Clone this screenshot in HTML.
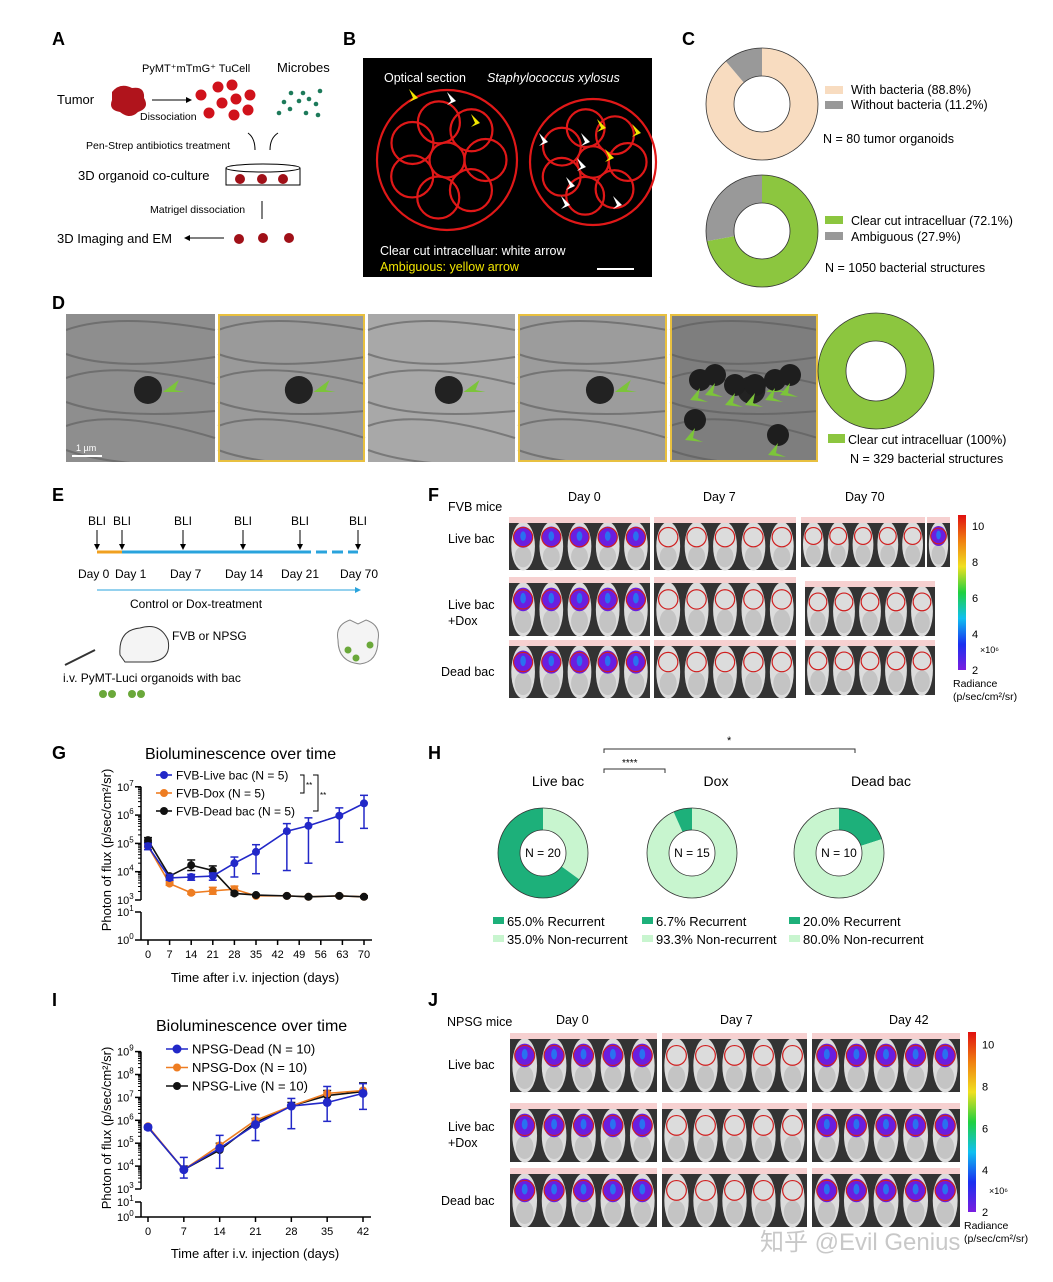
<!DOCTYPE html>
<html><head><meta charset="utf-8"><style>
html,body{margin:0;padding:0;background:#fff}
svg{display:block;font-family:"Liberation Sans",Arial,sans-serif}
</style></head><body>
<svg id="fig" width="1053" height="1282" viewBox="0 0 1053 1282">
<defs><clipPath id="emclip"><rect x="66" y="314" width="752" height="148"/></clipPath></defs>
<g id="labels" font-weight="bold" font-size="18" fill="#000">
<text x="52" y="45">A</text>
<text x="343" y="45">B</text>
<text x="682" y="45">C</text>
<text x="52" y="309">D</text>
<text x="52" y="501">E</text>
<text x="428" y="501">F</text>
<text x="52" y="759">G</text>
<text x="428" y="759">H</text>
<text x="52" y="1006">I</text>
<text x="428" y="1006">J</text>
</g>

<g id="panelA" font-size="12">
<text x="142" y="72" font-size="11">PyMT⁺mTmG⁺ TuCell</text>
<text x="277" y="72" font-size="13">Microbes</text>
<text x="57" y="104" font-size="13">Tumor</text>
<path d="M112,92 Q120,82 132,88 Q145,86 144,98 Q150,108 138,112 Q130,120 120,112 Q108,110 112,100Z" fill="#b0141c"/>
<line x1="152" y1="100" x2="186" y2="100" stroke="#000"/>
<path d="M186,97 L192,100 L186,103Z" fill="#000"/>
<text x="140" y="120" font-size="10.5">Dissociation</text>
<g fill="#d0121b">
<circle cx="201" cy="95" r="5.5"/><circle cx="218" cy="87" r="5.5"/><circle cx="232" cy="85" r="5.5"/><circle cx="222" cy="103" r="5.5"/><circle cx="236" cy="99" r="5.5"/><circle cx="250" cy="95" r="5.5"/><circle cx="209" cy="113" r="5.5"/><circle cx="234" cy="115" r="5.5"/><circle cx="248" cy="110" r="5.5"/></g>
<g fill="#1d7a5a">
<circle cx="291" cy="93" r="2.3"/><circle cx="303" cy="93" r="2.3"/><circle cx="320" cy="91" r="2.3"/><circle cx="284" cy="102" r="2.3"/><circle cx="299" cy="101" r="2.3"/><circle cx="309" cy="99" r="2.3"/><circle cx="316" cy="104" r="2.3"/><circle cx="279" cy="113" r="2.3"/><circle cx="290" cy="109" r="2.3"/><circle cx="306" cy="113" r="2.3"/><circle cx="318" cy="115" r="2.3"/></g>
<text x="86" y="149" font-size="10.5">Pen-Strep antibiotics treatment</text>
<path d="M248,133 Q255,138 255,150 M278,133 Q270,138 270,150" stroke="#000" fill="none"/>
<text x="78" y="180" font-size="13">3D organoid co-culture</text>
<ellipse cx="263" cy="168" rx="37" ry="4" fill="none" stroke="#000"/>
<path d="M226,168 V185 H300 V168" fill="none" stroke="#000"/>
<g fill="#a01018"><circle cx="240" cy="179" r="5"/><circle cx="262" cy="179" r="5"/><circle cx="283" cy="179" r="5"/></g>
<text x="150" y="213" font-size="10.5">Matrigel dissociation</text>
<line x1="262" y1="201" x2="262" y2="219" stroke="#000"/>
<text x="57" y="243" font-size="13">3D Imaging and EM</text>
<line x1="190" y1="238" x2="224" y2="238" stroke="#000"/><path d="M190,235 L184,238 L190,241Z"/>
<g fill="#a01018"><circle cx="239" cy="239" r="5"/><circle cx="263" cy="238" r="5"/><circle cx="289" cy="238" r="5"/></g>
</g>

<g id="panelB">
<rect x="363" y="58" width="289" height="219" fill="#000"/>
<g id="bcells" stroke="#e01818" stroke-width="2.2" fill="none"></g>
<text x="384" y="82" fill="#fff" font-size="12.5">Optical section</text>
<text x="487" y="82" fill="#fff" font-size="12.5" font-style="italic">Staphylococcus xylosus</text>
<text x="380" y="255" fill="#fff" font-size="12.5">Clear cut intracelluar: white arrow</text>
<text x="380" y="271" fill="#f2e600" font-size="12.5">Ambiguous: yellow arrow</text>
<line x1="597" y1="269" x2="634" y2="269" stroke="#fff" stroke-width="2"/>
</g>

<g id="panelC" font-size="12.5">
<g id="donutC1"></g>
<rect x="825" y="86" width="18" height="8" fill="#f8dcc0"/><text x="851" y="94">With bacteria (88.8%)</text>
<rect x="825" y="101" width="18" height="8" fill="#999"/><text x="851" y="109">Without bacteria (11.2%)</text>
<text x="823" y="143">N = 80 tumor organoids</text>
<g id="donutC2"></g>
<rect x="825" y="216" width="18" height="8" fill="#8cc63f"/><text x="851" y="225">Clear cut intracelluar (72.1%)</text>
<rect x="825" y="232" width="18" height="8" fill="#999"/><text x="851" y="241">Ambiguous (27.9%)</text>
<text x="825" y="272">N = 1050 bacterial structures</text>
</g>

<g id="panelD">
<g id="emImgs" clip-path="url(#emclip)"></g>
<g id="emFrames"></g>
<g id="donutD"></g>
<rect x="828" y="434" width="17" height="9" fill="#8cc63f"/>
<text x="848" y="444" font-size="12.5">Clear cut intracelluar (100%)</text>
<text x="850" y="463" font-size="12.5">N = 329 bacterial structures</text>
</g>

<g id="panelE" font-size="12">
<line x1="97" y1="552" x2="122" y2="552" stroke="#f0a020" stroke-width="3"/>
<line x1="122" y1="552" x2="300" y2="552" stroke="#29a3dc" stroke-width="3"/>
<line x1="300" y1="552" x2="358" y2="552" stroke="#29a3dc" stroke-width="3" stroke-dasharray="11,5"/>
<g id="bliMarks"></g>
<text x="130" y="608">Control or Dox-treatment</text>
<line x1="97" y1="590" x2="355" y2="590" stroke="#29a3dc"/><path d="M355,587 L361,590 L355,593Z" fill="#29a3dc"/>
<path d="M120,655 Q118,630 140,628 Q160,622 168,640 Q172,660 150,662 H125Z" fill="#f4f4f4" stroke="#333"/>
<text x="172" y="640">FVB or NPSG</text>
<text x="63" y="682">i.v. PyMT-Luci organoids with bac</text>
<line x1="65" y1="665" x2="95" y2="650" stroke="#333" stroke-width="2"/>
<g fill="#6aa83a"><circle cx="103" cy="694" r="4"/><circle cx="112" cy="694" r="4"/><circle cx="132" cy="694" r="4"/><circle cx="141" cy="694" r="4"/></g>
<path d="M338,640 Q335,625 350,620 L358,624 L366,620 Q381,625 378,640 Q378,662 360,664 Q338,662 338,640Z" fill="#f4f4f4" stroke="#888"/>
<g fill="#6aa83a"><circle cx="348" cy="650" r="3.5"/><circle cx="370" cy="645" r="3.5"/><circle cx="356" cy="658" r="3.5"/></g>
</g>

<g id="panelF" font-size="12.5">
<text x="448" y="511">FVB mice</text>
<text x="568" y="501">Day 0</text>
<text x="703" y="501">Day 7</text>
<text x="845" y="501">Day 70</text>
<text x="448" y="543">Live bac</text>
<text x="448" y="609">Live bac</text>
<text x="448" y="625">+Dox</text>
<text x="441" y="676">Dead bac</text>
<g id="fPanels"></g>
<g id="fBar"></g>
</g>

<g id="chartG">
<text x="145" y="759" font-size="16">Bioluminescence over time</text>
<text transform="translate(111,850) rotate(-90)" text-anchor="middle" font-size="13">Photon of flux (p/sec/cm²/sr)</text>
<text x="255" y="982" text-anchor="middle" font-size="13">Time after i.v. injection (days)</text>
<g id="gAxes"></g><g id="gSeries"></g><g id="gLegend" font-size="12"></g>
</g>

<g id="panelH" font-size="14">
<path d="M604,753 V749 H855 V753" stroke="#333" fill="none"/>
<text x="727" y="744" font-size="11">*</text>
<path d="M604,773 V769 H665 V773" stroke="#333" fill="none"/>
<text x="622" y="766" font-size="10">****</text>
<text x="558" y="786" text-anchor="middle">Live bac</text>
<text x="716" y="786" text-anchor="middle">Dox</text>
<text x="881" y="786" text-anchor="middle">Dead bac</text>
<g id="hDonuts" font-size="12"></g>
</g>

<g id="chartI">
<text x="156" y="1031" font-size="16">Bioluminescence over time</text>
<text transform="translate(111,1128) rotate(-90)" text-anchor="middle" font-size="13">Photon of flux (p/sec/cm²/sr)</text>
<text x="255" y="1258" text-anchor="middle" font-size="13">Time after i.v. injection (days)</text>
<g id="iAxes"></g><g id="iSeries"></g><g id="iLegend" font-size="13"></g>
</g>

<g id="panelJ" font-size="12.5">
<text x="447" y="1026">NPSG mice</text>
<text x="556" y="1024">Day 0</text>
<text x="720" y="1024">Day 7</text>
<text x="889" y="1024">Day 42</text>
<text x="448" y="1069">Live bac</text>
<text x="448" y="1131">Live bac</text>
<text x="448" y="1147">+Dox</text>
<text x="441" y="1205">Dead bac</text>
<g id="jPanels"></g>
<g id="jBar"></g>
</g>
<text x="760" y="1250" font-size="24" fill="#bbb" opacity="0.8" font-family="'Liberation Sans','Noto Sans CJK SC',sans-serif">知乎 @Evil Genius</text>
</svg>
<script>
const NS="http://www.w3.org/2000/svg";
function mk(p,tag,a){const e=document.createElementNS(NS,tag);for(const k in a)e.setAttribute(k,a[k]);p.appendChild(e);return e;}
const $=id=>document.getElementById(id);

const gDays=[0,7,14,21,28,35,45,52,62,70];
const gLive=[8e4,6e3,6.5e3,7e3,2e4,5e4,2.7e5,4.2e5,9.5e5,2.6e6];
const gLiveHi=[1e5,8e3,8e3,9e3,3.3e4,9e4,5e5,8e5,1.8e6,5e6];
const gLiveLo=[6e4,5e3,5e3,5e3,6.5e3,8.5e3,1.1e4,2e4,1.1e5,3.4e5];
const gDox=[8e4,3.8e3,1.8e3,2.1e3,2.4e3,1.4e3,1.4e3,1.3e3,1.4e3,1.3e3];
const gDoxHi=[9e4,4.4e3,2e3,2.8e3,3.1e3,1.5e3,1.5e3,1.4e3,1.5e3,1.4e3];
const gDoxLo=[7e4,3.3e3,1.6e3,1.6e3,1.9e3,1.3e3,1.3e3,1.2e3,1.3e3,1.2e3];
const gDead=[1.3e5,7e3,1.7e4,1.1e4,1.7e3,1.5e3,1.4e3,1.3e3,1.4e3,1.3e3];
const gDeadHi=[1.6e5,8e3,2.6e4,1.6e4,1.9e3,1.6e3,1.5e3,1.4e3,1.5e3,1.4e3];
const gDeadLo=[1.1e5,6e3,1.1e4,7e3,1.5e3,1.4e3,1.3e3,1.2e3,1.3e3,1.2e3];
const gXTicks=[0,7,14,21,28,35,42,49,56,63,70];
const gYTicks=[3,4,5,6,7];
const gLegendLabels=["FVB-Live bac (N = 5)","FVB-Dox (N = 5)","FVB-Dead bac (N = 5)"];
const iDays=[0,7,14,21,28,35,42];
const iDead=[5e5,7e3,6e4,6.5e5,4.2e6,6e6,1.5e7];
const iDeadHi=[6e5,2.4e4,2.2e5,1.8e6,9e6,3e7,4e7];
const iDeadLo=[4e5,3e3,8e3,1.3e5,4.3e5,9e5,3e6];
const iDox=[5.5e5,7e3,8e4,1e6,4.2e6,1.5e7,2e7];
const iLive=[5e5,7e3,5e4,8e5,4.2e6,1.2e7,1.8e7];
const iLiveHi=[6e5,1e4,1e5,1.2e6,6e6,2e7,4.3e7];
const iXTicks=[0,7,14,21,28,35,42];
const iYTicks=[3,4,5,6,7,8,9];
const iLegendLabels=["NPSG-Dead (N = 10)","NPSG-Dox (N = 10)","NPSG-Live (N = 10)"];
const hLabels=["Live bac","Dox","Dead bac"];
const hRecurrent=[65.0,6.7,20.0];
const hN=[20,15,10];
const cBacteria=[88.8,11.2];
const cClear=[72.1,27.9];

function logChart(o){
  const X=d=>o.x0+d*(o.x1-o.x0)/o.dmax;
  const Y=v=>o.y3-(Math.log10(v)-3)*o.dec;
  const ax=$(o.axes);
  mk(ax,'line',{x1:o.ax,y1:Y(Math.pow(10,o.yt[o.yt.length-1])),x2:o.ax,y2:o.y3,stroke:'#000','stroke-width':1.5});
  mk(ax,'line',{x1:o.ax,y1:o.y1,x2:o.ax,y2:o.y0,stroke:'#000','stroke-width':1.5});
  mk(ax,'line',{x1:o.ax,y1:o.y0,x2:o.x1+8,y2:o.y0,stroke:'#000','stroke-width':1.5});
  const ylab=(y,p)=>{const t=mk(ax,'text',{x:o.ax-24,y:y+4,'font-size':11});t.textContent='10';const s=mk(t,'tspan',{dy:-5,'font-size':8});s.textContent=p;
    };
  o.yt.forEach(p=>{const y=Y(Math.pow(10,p));mk(ax,'line',{x1:o.ax-6,y1:y,x2:o.ax,y2:y,stroke:'#000','stroke-width':1.5});ylab(y,p);
    if(p<o.yt[o.yt.length-1]) for(let m=2;m<10;m++){const ym=Y(m*Math.pow(10,p));mk(ax,'line',{x1:o.ax-3,y1:ym,x2:o.ax,y2:ym,stroke:'#000'});}});
  mk(ax,'line',{x1:o.ax-6,y1:o.y1,x2:o.ax,y2:o.y1,stroke:'#000','stroke-width':1.5});ylab(o.y1,1);
  mk(ax,'line',{x1:o.ax-6,y1:o.y0,x2:o.ax,y2:o.y0,stroke:'#000','stroke-width':1.5});ylab(o.y0,0);
  o.xt.forEach(d=>{const x=X(d);mk(ax,'line',{x1:x,y1:o.y0,x2:x,y2:o.y0+5,stroke:'#000','stroke-width':1.5});
    const t=mk(ax,'text',{x:x,y:o.y0+18,'text-anchor':'middle','font-size':11});t.textContent=d;
    });
  const sg=$(o.series);
  o.series_.forEach(s=>{
    const g=mk(sg,'g',{});
    
    
    if(s.hi) s.days.forEach((d,i)=>{const x=X(d);
      mk(g,'line',{x1:x,y1:Y(s.hi[i]),x2:x,y2:Y(s.lo?s.lo[i]:s.vals[i]),stroke:s.c,'stroke-width':1.5});
      mk(g,'line',{x1:x-4,y1:Y(s.hi[i]),x2:x+4,y2:Y(s.hi[i]),stroke:s.c,'stroke-width':1.5});
      if(s.lo) mk(g,'line',{x1:x-4,y1:Y(s.lo[i]),x2:x+4,y2:Y(s.lo[i]),stroke:s.c,'stroke-width':1.5});});
    mk(g,'polyline',{points:s.days.map((d,i)=>X(d)+','+Y(s.vals[i])).join(' '),fill:'none',stroke:s.c,'stroke-width':1.6});
    s.days.forEach((d,i)=>{const c=mk(g,'circle',{cx:X(d),cy:Y(s.vals[i]),r:s.r,fill:s.c});
      
      });
  });
  const lg=$(o.legend);
  o.leg.forEach((L,i)=>{const y=o.ly+i*o.lgap;
    mk(lg,'line',{x1:o.lx,y1:y,x2:o.lx+o.lw,y2:y,stroke:L.c,'stroke-width':1.6});
    mk(lg,'circle',{cx:o.lx+o.lw/2,cy:y,r:L.r,fill:L.c});
    const t=mk(lg,'text',{x:o.lx+o.lw+4,y:y+4.5});t.textContent=L.t;
    
    });
}
logChart({axes:'gAxes',series:'gSeries',legend:'gLegend',x0:148,x1:364,dmax:70,y3:900,dec:28.3,ax:141,y1:912,y0:940,
  yt:gYTicks,xt:gXTicks,
  series_:[
   {name:'series-fvb-dox',days:gDays,vals:gDox,hi:gDoxHi,lo:gDoxLo,c:'#ee7d22',r:4},
   {name:'series-fvb-dead',days:gDays,vals:gDead,hi:gDeadHi,lo:gDeadLo,c:'#111',r:4},
   {name:'series-fvb-live',days:gDays,vals:gLive,hi:gLiveHi,lo:gLiveLo,c:'#2228c8',r:4}],
  leg:[{t:gLegendLabels[0],c:'#2228c8',r:4},{t:gLegendLabels[1],c:'#ee7d22',r:4},{t:gLegendLabels[2],c:'#111',r:4}],
  lx:156,ly:775,lgap:18,lw:16});
(function(){const g=$('gLegend');
 mk(g,'path',{d:'M300,775 H304 V793 H300',stroke:'#000',fill:'none'});
 mk(g,'path',{d:'M313,775 H318 V811 H313',stroke:'#000',fill:'none'});
 const a=mk(g,'text',{x:306,y:788,'font-size':8});a.textContent='**';
 const b=mk(g,'text',{x:320,y:798,'font-size':8});b.textContent='**';})();

logChart({axes:'iAxes',series:'iSeries',legend:'iLegend',x0:148,x1:363,dmax:42,y3:1189,dec:22.9,ax:141,y1:1202,y0:1217,
  yt:iYTicks,xt:iXTicks,
  series_:[
   {name:'series-npsg-live',days:iDays,vals:iLive,hi:iLiveHi,c:'#111',r:4},
   {name:'series-npsg-dox',days:iDays,vals:iDox,c:'#ee7d22',r:4},
   {name:'series-npsg-dead',days:iDays,vals:iDead,hi:iDeadHi,lo:iDeadLo,c:'#2228c8',r:4.5}],
  leg:[{t:iLegendLabels[0],c:'#2228c8',r:4.5},{t:iLegendLabels[1],c:'#ee7d22',r:4},{t:iLegendLabels[2],c:'#111',r:4}],
  lx:166,ly:1049,lgap:18.5,lw:22});

function donut(parent,cx,cy,R,r,parts){
  let a=-Math.PI/2;
  parts.forEach(p=>{const b=a+2*Math.PI*p.v/100;
    if(p.v>=99.99){mk(parent,'circle',{cx,cy,r:(R+r)/2,fill:'none',stroke:p.c,'stroke-width':R-r});}
    else{const L=(b-a)>Math.PI?1:0;
    const d=`M${cx+R*Math.cos(a)},${cy+R*Math.sin(a)} A${R},${R} 0 ${L} 1 ${cx+R*Math.cos(b)},${cy+R*Math.sin(b)} L${cx+r*Math.cos(b)},${cy+r*Math.sin(b)} A${r},${r} 0 ${L} 0 ${cx+r*Math.cos(a)},${cy+r*Math.sin(a)}Z`;
    const e=mk(parent,'path',{d,fill:p.c});
    
    }
    a=b;});
  mk(parent,'circle',{cx,cy,r:R,fill:'none',stroke:'#333','stroke-width':0.8});
  mk(parent,'circle',{cx,cy,r,fill:'#fff',stroke:'#333','stroke-width':0.8});
}
donut($('donutC1'),762,104,56,28,[{v:cBacteria[0],c:'#f8dcc0'},{v:cBacteria[1],c:'#999'}]);
donut($('donutC2'),762,231,56,28,[{v:cClear[0],c:'#8cc63f'},{v:cClear[1],c:'#999'}]);
donut($('donutD'),876,371,58,30,[{v:100,c:'#8cc63f'}]);
const hcx=[543,692,839];
const DARK='#1db07a',LIGHT='#c8f5cf';
hLabels.forEach((h,i)=>{const g=$('hDonuts');
  const rec={v:hRecurrent[i],c:DARK},non={v:100-hRecurrent[i],c:LIGHT};
  donut(g,hcx[i],853,45,23,i===2?[rec,non]:[non,rec]);
  const t=mk(g,'text',{x:hcx[i],y:857,'text-anchor':'middle'});t.textContent='N = '+hN[i];
  
  const lx=hcx[i]-50;
  mk(g,'rect',{x:lx,y:917,width:11,height:7,fill:DARK});
  mk(g,'rect',{x:lx,y:935,width:11,height:7,fill:LIGHT});
  const t1=mk(g,'text',{x:lx+14,y:926,'font-size':13});t1.textContent=hRecurrent[i].toFixed(1)+'%  Recurrent';
  
  const t2=mk(g,'text',{x:lx+14,y:944,'font-size':13});t2.textContent=(100-hRecurrent[i]).toFixed(1)+'%  Non-recurrent';
  
});

(function(){const g=$('bcells');
 [[447,160,70],[593,162,63]].forEach(([cx,cy,R])=>{
  mk(g,'circle',{cx,cy,r:R});
  for(let i=0;i<7;i++){const a=i*0.9;mk(g,'circle',{cx:cx+R*0.55*Math.cos(a),cy:cy+R*0.55*Math.sin(a),r:R*0.3});}
  mk(g,'circle',{cx,cy,r:R*0.25});
 });
 const w=$('panelB');
 [[418,98,'#f2e600'],[456,101,'#fff'],[480,123,'#f2e600'],[548,142,'#fff'],[586,167,'#fff'],[575,186,'#fff'],[570,205,'#fff'],[622,205,'#fff'],[606,128,'#f2e600'],[641,133,'#f2e600'],[614,158,'#f2e600'],[590,142,'#fff']].forEach(([x,y,c])=>mk(w,'path',{d:`M${x},${y} l-9,-9 l4,9 l-4,4z`,fill:c}));
})();

(function(){const g=$('emImgs'),f=$('emFrames');const xs=[66,218,368,518,670],ws=[149,147,147,149,148],bord=[0,1,0,1,1];
 xs.forEach((x,i)=>{mk(g,'rect',{x,y:314,width:ws[i],height:148,fill:['#8e8e8e','#9a9a9a','#a8a8a8','#9c9c9c','#7e7e7e'][i]});
   for(let k=0;k<6;k++)mk(g,'path',{d:`M${x},${330+k*24} q${ws[i]/3},${(k%2?18:-18)} ${ws[i]},${k*3}`,stroke:'#5a5a5a','stroke-width':2,fill:'none',opacity:0.6});
   mk(g,'ellipse',{cx:x+ws[i]*0.55,cy:390,rx:14,ry:14,fill:'#222'});
   mk(g,'path',{d:`M${x+ws[i]*0.65},${392} l16,-12 l-4,10 l10,2z`,fill:'#7cc43a'});
   if(bord[i])mk(f,'rect',{x:x+1,y:315,width:ws[i]-2,height:146,fill:'none',stroke:'#e8c040','stroke-width':2});});
 [[690,400],[705,395],[725,405],[745,405],[765,400],[780,395],[685,440],[768,455]].forEach(([x,y])=>{mk(g,'ellipse',{cx:x+10,cy:y-20,rx:11,ry:11,fill:'#1e1e1e'});mk(g,'path',{d:`M${x},${y} l10,-12 l-2,10 l10,4z`,fill:'#7cc43a'});});
 mk(g,'line',{x1:72,y1:456,x2:102,y2:456,stroke:'#fff','stroke-width':2});
 const t=mk(g,'text',{x:76,y:451,'font-size':9,fill:'#fff'});t.textContent='1 µm';})();

(function(){const g=$('bliMarks');const xs=[97,122,183,243,300,358],lab=['Day 0','Day 1','Day 7','Day 14','Day 21','Day 70'],lx=[78,115,170,225,281,340];
 xs.forEach((x,i)=>{const t=mk(g,'text',{x,y:525,'text-anchor':'middle'});t.textContent='BLI';
  
  mk(g,'line',{x1:x,y1:530,x2:x,y2:546,stroke:'#000'});mk(g,'path',{d:`M${x-3},${544} L${x},${550} L${x+3},${544}z`});
  const d=mk(g,'text',{x:lx[i],y:578});d.textContent=lab[i];
  });})();

function mice(g,x,y,w,h,n,sig){
  mk(g,'rect',{x,y,width:w,height:h,fill:'#333'});
  const sw=w/n;
  for(let i=0;i<n;i++){const cx=x+sw*(i+0.5);
    mk(g,'ellipse',{cx,cy:y+h*0.55,rx:sw*0.42,ry:h*0.46,fill:'#dcdcdc'});
    mk(g,'ellipse',{cx,cy:y+h*0.75,rx:sw*0.3,ry:h*0.2,fill:'#c4c4c4'});
    if(sig==='big'){mk(g,'ellipse',{cx,cy:y+h*0.38,rx:sw*0.34,ry:h*0.2,fill:'#6a1ee0'});
      mk(g,'ellipse',{cx,cy:y+h*0.36,rx:sw*0.1,ry:h*0.09,fill:'#2a70f0'});}
    mk(g,'circle',{cx,cy:y+h*0.38,r:Math.min(sw*0.34,h*0.24),fill:'none',stroke:'#d02020','stroke-width':1.2});
  }
  mk(g,'rect',{x,y,width:w,height:6,fill:'#f6d0d0'});
}
(function(){const g=$('fPanels');
 const rows=[517,577,640],hs=[53,59,58];
 rows.forEach((y,r)=>{mice(g,509,y,141,hs[r],5,'big');mice(g,654,y,142,hs[r],5,'circ');});
 mice(g,801,517,124,50,5,'circ');mice(g,927,517,23,50,1,'big');
 mice(g,805,581,130,55,5,'circ');mice(g,805,640,130,55,5,'circ');
 const j=$('jPanels');[1033,1103,1168].forEach(y=>{mice(j,510,y,147,59,5,'big');mice(j,662,y,145,59,5,'circ');mice(j,812,y,148,59,5,'big');});
})();
function colorbar(g,x,y,h,vals){
  const defs=mk(g,'defs',{});const lg=mk(defs,'linearGradient',{id:'cb'+x,x1:0,y1:1,x2:0,y2:0});
  ['#7a1ee0','#1a30f0','#10c0f0','#20d040','#f0e020','#f08010','#e01010'].forEach((c,i)=>mk(lg,'stop',{offset:i/6,'stop-color':c}));
  mk(g,'rect',{x,y,width:8,height:h,fill:`url(#cb${x})`,});
  vals.forEach((v,i)=>{const t=mk(g,'text',{x:x+14,y:y+h-(i*(h/4.3))+4,'font-size':11});t.textContent=v;
    });
}
colorbar($('fBar'),958,515,155,['2','4','6','8','10']);
(function(){const g=$('fBar');const a=mk(g,'text',{x:980,y:653,'font-size':9});a.textContent='×10⁶';
 const b=mk(g,'text',{x:953,y:687,'font-size':10.5});b.textContent='Radiance';
 const c=mk(g,'text',{x:953,y:700,'font-size':10.5});c.textContent='(p/sec/cm²/sr)';})();
colorbar($('jBar'),968,1032,180,['2','4','6','8','10']);
(function(){const g=$('jBar');const a=mk(g,'text',{x:989,y:1194,'font-size':9});a.textContent='×10⁶';
 const b=mk(g,'text',{x:964,y:1229,'font-size':10.5});b.textContent='Radiance';
 const c=mk(g,'text',{x:964,y:1242,'font-size':10.5});c.textContent='(p/sec/cm²/sr)';})();
</script>
</body></html>
